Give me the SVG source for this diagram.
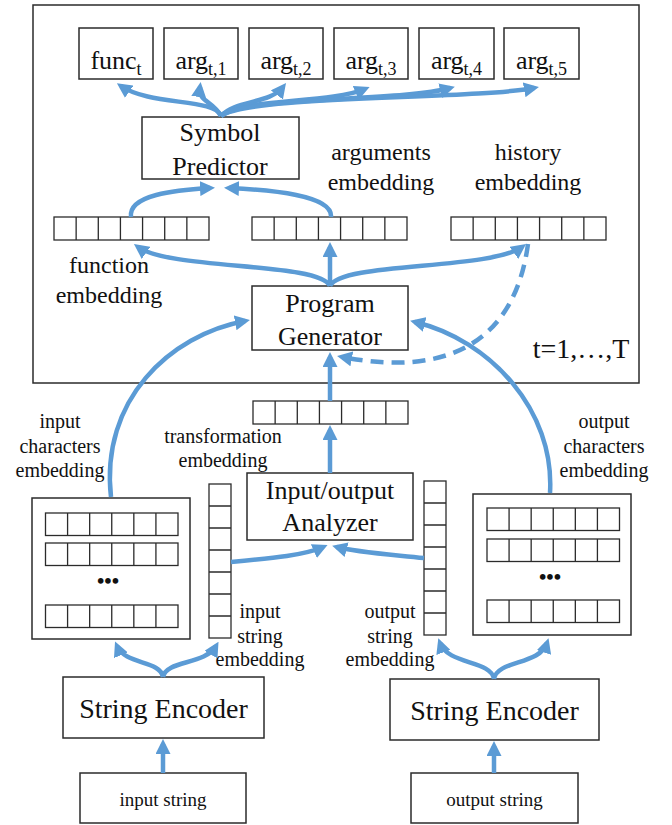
<svg xmlns="http://www.w3.org/2000/svg" xmlns:xlink="http://www.w3.org/1999/xlink" width="672" height="825" viewBox="0 0 672 825" font-family="'Liberation Serif', 'Times New Roman', 'DejaVu Serif', serif">
<style>
.box{fill:#fff;stroke:#2b2b2b;stroke-width:1.5}
.cell{fill:none;stroke:#2b2b2b;stroke-width:1.3}
.t{font-family:'Liberation Serif','Times New Roman','DejaVu Serif',serif;fill:#111;text-anchor:middle}
.big{font-size:26px}
.lbl{font-size:24px}
.sm{font-size:20px}
.dots{font-size:21px;font-weight:bold}
.con{fill:none;stroke:#5b9bd5;stroke-width:4.5;marker-end:url(#ah)}
.dash{stroke-dasharray:13 8}
</style>
<defs>
<marker id="ah" viewBox="0 0 12 12" refX="8" refY="6" markerWidth="15" markerHeight="15" markerUnits="userSpaceOnUse" orient="auto">
<path d="M0,0 L12,6 L0,12 z" fill="#5b9bd5"/>
</marker>
<g id="hvec">
<rect class="cell" x="0" y="0" width="155" height="23" fill="#fff"/>
<path class="cell" d="M22.14,0V23M44.29,0V23M66.43,0V23M88.57,0V23M110.71,0V23M132.86,0V23"/>
</g>
<g id="vvec">
<rect class="cell" x="0" y="0" width="22" height="154"/>
<path class="cell" d="M0,22H22M0,44H22M0,66H22M0,88H22M0,110H22M0,132H22"/>
</g>
<g id="row6">
<rect class="cell" x="0" y="0" width="132.5" height="22.5"/>
<path class="cell" d="M22.08,0V22.5M44.17,0V22.5M66.25,0V22.5M88.33,0V22.5M110.42,0V22.5"/>
</g>
</defs>
<rect width="672" height="825" fill="#fff"/>

<g id="frame">
<rect x="33" y="5" width="606" height="378" fill="none" stroke="#2b2b2b" stroke-width="1.5"/>
<text class="t" x="581" y="358" font-size="28">t=1,…,T</text>
</g>

<g id="func_t"><rect class="box" x="79" y="28" width="74" height="51"/><text class="t big" x="116" y="69">func<tspan dy="6" font-size="18">t</tspan></text></g>
<g id="arg_t1"><rect class="box" x="164" y="28" width="74" height="51"/><text class="t big" x="201" y="69">arg<tspan dy="6" font-size="18">t,1</tspan></text></g>
<g id="arg_t2"><rect class="box" x="249" y="28" width="74" height="51"/><text class="t big" x="286" y="69">arg<tspan dy="6" font-size="18">t,2</tspan></text></g>
<g id="arg_t3"><rect class="box" x="334" y="28" width="74" height="51"/><text class="t big" x="371" y="69">arg<tspan dy="6" font-size="18">t,3</tspan></text></g>
<g id="arg_t4"><rect class="box" x="419" y="28" width="75" height="51"/><text class="t big" x="456.5" y="69">arg<tspan dy="6" font-size="18">t,4</tspan></text></g>
<g id="arg_t5"><rect class="box" x="504" y="28" width="75" height="51"/><text class="t big" x="541.5" y="69">arg<tspan dy="6" font-size="18">t,5</tspan></text></g>

<g id="symbol_predictor"><rect class="box" x="142" y="117" width="157" height="62"/><text class="t big" x="220" y="141">Symbol</text><text class="t big" x="220" y="175">Predictor</text></g>

<g id="function_embedding"><use xlink:href="#hvec" x="54" y="217"/><text class="t lbl" x="109" y="273">function</text><text class="t lbl" x="109" y="303">embedding</text></g>
<g id="arguments_embedding"><use xlink:href="#hvec" x="252" y="217"/><text class="t lbl" x="381" y="160">arguments</text><text class="t lbl" x="381" y="190">embedding</text></g>
<g id="history_embedding"><use xlink:href="#hvec" x="451" y="217"/><text class="t lbl" x="528" y="160">history</text><text class="t lbl" x="528" y="190">embedding</text></g>

<g id="program_generator"><rect class="box" x="252" y="286" width="156" height="64"/><text class="t big" x="330" y="312">Program</text><text class="t big" x="330" y="345">Generator</text></g>

<g id="transformation_embedding"><use xlink:href="#hvec" x="253" y="401"/><text class="t sm" x="223" y="443">transformation</text><text class="t sm" x="223" y="467">embedding</text></g>

<g id="io_analyzer"><rect class="box" x="247" y="473" width="166" height="67"/><text class="t big" x="330" y="499">Input/output</text><text class="t big" x="330" y="531">Analyzer</text></g>

<g id="input_characters_embedding">
<rect class="box" x="32" y="498" width="158" height="141"/>
<use xlink:href="#row6" x="45.5" y="513"/>
<use xlink:href="#row6" x="45.5" y="543"/>
<use xlink:href="#row6" x="45.5" y="605"/>
<text class="t dots" x="108" y="588">•••</text>
<text class="t sm" x="60" y="428">input</text><text class="t sm" x="60" y="453">characters</text><text class="t sm" x="60" y="477">embedding</text>
</g>
<g id="input_string_embedding"><use xlink:href="#vvec" x="209" y="484"/><text class="t sm" x="260" y="618">input</text><text class="t sm" x="260" y="643">string</text><text class="t sm" x="260" y="666">embedding</text></g>

<g id="output_string_embedding"><use xlink:href="#vvec" x="424" y="481"/><text class="t sm" x="390" y="618">output</text><text class="t sm" x="390" y="643">string</text><text class="t sm" x="390" y="666">embedding</text></g>
<g id="output_characters_embedding">
<rect class="box" x="473" y="494" width="158" height="141"/>
<use xlink:href="#row6" x="487" y="508"/>
<use xlink:href="#row6" x="487" y="539"/>
<use xlink:href="#row6" x="487" y="600"/>
<text class="t dots" x="550" y="584">•••</text>
<text class="t sm" x="604" y="428">output</text><text class="t sm" x="604" y="453">characters</text><text class="t sm" x="604" y="477">embedding</text>
</g>

<g id="string_encoder_in"><rect class="box" x="63" y="677" width="201" height="61"/><text class="t" x="163.5" y="718" font-size="28">String Encoder</text></g>
<g id="string_encoder_out"><rect class="box" x="390" y="679" width="209" height="61"/><text class="t" x="494.5" y="720" font-size="28">String Encoder</text></g>
<g id="input_string"><rect class="box" x="80" y="773" width="166" height="50"/><text class="t" x="163" y="806" font-size="19">input string</text></g>
<g id="output_string"><rect class="box" x="411" y="773" width="167" height="50"/><text class="t" x="494.5" y="806" font-size="19">output string</text></g>

<g id="connectors">
<path class="con" d="M221,116 C215,98 150,106 121,86"/>
<path class="con" d="M221,116 C212,100 198,102 200,87"/>
<path class="con" d="M221,116 C235,100 270,104 283,87"/>
<path class="con" d="M221,116 C240,98 330,104 365,89"/>
<path class="con" d="M221,116 C245,96 400,102 450,88"/>
<path class="con" d="M221,116 C250,95 470,100 534,88"/>
<path class="con" d="M131,217 C128,195 175,190 210,188"/>
<path class="con" d="M331,217 C333,195 270,190 229,188"/>
<path class="con" d="M330,286 C320,262 170,270 138,247"/>
<path class="con" d="M330,286 L330,247"/>
<path class="con" d="M330,286 C340,262 490,270 522,247"/>
<path class="con dash" d="M528,244 C515,340 450,378 342,357"/>
<path class="con" d="M330,401 L330,357"/>
<path class="con" d="M330,473 L330,430"/>
<path class="con" d="M111,497 C100,400 170,335 245,321"/>
<path class="con" d="M550,493 C555,410 490,340 415,322"/>
<path class="con" d="M231,562 C275,558 305,555 323,547"/>
<path class="con" d="M424,558 C385,554 355,552 337,547"/>
<path class="con" d="M163,677 C160,660 125,665 117,646"/>
<path class="con" d="M163,677 C166,660 205,665 216,646"/>
<path class="con" d="M494,679 C491,660 448,665 440,643"/>
<path class="con" d="M494,679 C497,660 540,665 547,643"/>
<path class="con" d="M163,773 L163,744"/>
<path class="con" d="M494,773 L494,746"/>
</g>
</svg>
